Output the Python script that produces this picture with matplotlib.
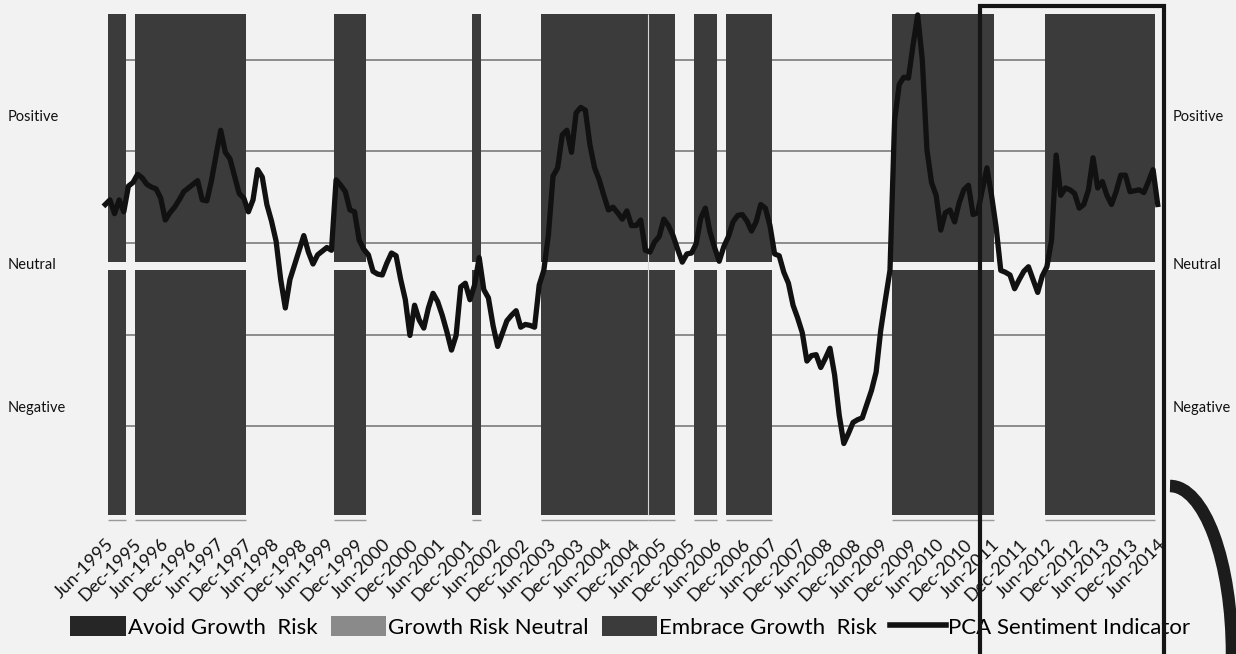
import matplotlib
matplotlib.use("Agg")
import matplotlib.pyplot as plt
from matplotlib.patches import Patch, Rectangle, Arc
from matplotlib.lines import Line2D

# ---------------- data ----------------
pca_sentiment = [
    0.42, 0.47, 0.32, 0.47, 0.34, 0.62, 0.66, 0.75, 0.71, 0.64,
    0.61, 0.59, 0.49, 0.25, 0.33, 0.39, 0.47, 0.56, 0.60, 0.64,
    0.68, 0.47, 0.46, 0.68, 0.96, 1.23, 0.99, 0.92, 0.73, 0.54,
    0.49, 0.34, 0.47, 0.80, 0.72, 0.42, 0.24, 0.02, -0.40, -0.71,
    -0.40, -0.24, -0.08, 0.08, -0.10, -0.23, -0.13, -0.09, -0.05, -0.08,
    0.69, 0.63, 0.56, 0.36, 0.34, 0.03, -0.07, -0.13, -0.31, -0.34,
    -0.35, -0.22, -0.11, -0.14, -0.40, -0.62, -1.01, -0.68, -0.84, -0.93,
    -0.71, -0.55, -0.64, -0.79, -0.97, -1.17, -1.01, -0.48, -0.44, -0.62,
    -0.46, -0.16, -0.51, -0.60, -0.90, -1.13, -0.99, -0.85, -0.79, -0.74,
    -0.92, -0.89, -0.90, -0.92, -0.46, -0.30, 0.09, 0.73, 0.82, 1.18,
    1.23, 0.99, 1.42, 1.48, 1.45, 1.07, 0.82, 0.69, 0.52, 0.36,
    0.39, 0.33, 0.26, 0.35, 0.19, 0.19, 0.25, -0.08, -0.10, 0.01,
    0.07, 0.26, 0.19, 0.08, -0.07, -0.21, -0.12, -0.11, -0.01, 0.27,
    0.38, 0.12, -0.05, -0.20, -0.04, 0.07, 0.23, 0.30, 0.31, 0.24,
    0.13, 0.23, 0.42, 0.38, 0.19, -0.12, -0.14, -0.32, -0.44, -0.68,
    -0.82, -0.98, -1.29, -1.23, -1.22, -1.36, -1.26, -1.15, -1.44, -1.88,
    -2.19, -2.08, -1.96, -1.93, -1.91, -1.76, -1.61, -1.41, -0.95, -0.62,
    -0.30, 1.34, 1.73, 1.81, 1.80, 2.16, 2.49, 2.00, 1.02, 0.66,
    0.52, 0.14, 0.33, 0.36, 0.23, 0.44, 0.58, 0.63, 0.31, 0.33,
    0.58, 0.82, 0.52, 0.17, -0.30, -0.32, -0.35, -0.50, -0.40, -0.31,
    -0.26, -0.40, -0.54, -0.36, -0.26, 0.03, 0.96, 0.52, 0.60, 0.58,
    0.54, 0.38, 0.42, 0.58, 0.93, 0.60, 0.67, 0.52, 0.42, 0.56,
    0.74, 0.74, 0.56, 0.57, 0.58, 0.55, 0.67, 0.80, 0.42,
]
months = list(range(len(pca_sentiment)))  # Jun-1995 .. Jun-2014, monthly

# regime periods (first month index, last month index)
regime_spans = [(1, 4), (7, 30), (50, 56), (80, 81), (95, 117), (118, 123),
                (128, 132), (135, 144), (171, 192), (204, 227)]

tick_positions = list(range(0, len(pca_sentiment), 6))
tick_labels = [f"{mo}-{yr}" for yr in range(1995, 2015) for mo in ("Jun", "Dec")][:len(tick_positions)]

zone_labels = ["Positive", "Neutral", "Negative"]
zone_levels = [1.37, -0.24, -1.80]

legend_labels = ["Avoid Growth  Risk", "Growth Risk Neutral", "Embrace Growth  Risk",
                 "PCA Sentiment Indicator"]

# ---------------- style ----------------
BG = "#f2f2f2"
BAR = "#3b3b3b"
FONT = ["Lato", "DejaVu Sans"]
plt.rcParams["font.family"] = FONT

W, H = 1236, 654
fig = plt.figure(figsize=(W / 100, H / 100), dpi=100, facecolor=BG)

ax_l, ax_r, ax_t, ax_b = 103, 1160, 14, 525
ax = fig.add_axes([ax_l / W, 1 - ax_b / H, (ax_r - ax_l) / W, (ax_b - ax_t) / H])
ax.set_facecolor(BG)
ax.set_xlim(-0.5, len(pca_sentiment) - 0.5)
ax.set_ylim(-3.08, 2.5)

grid_start = regime_spans[0][0] - 0.5
grid_end = regime_spans[-1][1] + 0.5
for g in [-2, -1, 0, 1, 2]:
    ax.hlines(g, grid_start, grid_end, color="#707070", lw=1.1, zorder=0.5)

upper_bottom, upper_top = -0.21, 2.5
lower_bottom, lower_top = -2.97, -0.30
for a, b in regime_spans:
    c = (a + b) / 2
    w = b - a + 1
    ax.bar(c, upper_top - upper_bottom, width=w, bottom=upper_bottom,
           color=BAR, linewidth=0, zorder=1)
    ax.bar(c, lower_top - lower_bottom, width=w, bottom=lower_bottom,
           color=BAR, linewidth=0, zorder=1)
    ax.hlines(-3.03, a - 0.5, b + 0.5, color="#9a9a9a", lw=1.0, zorder=1)
# thin separators between touching periods
for (a1, b1), (a2, b2) in zip(regime_spans[:-1], regime_spans[1:]):
    if a2 == b1 + 1:
        ax.vlines(b1 + 0.5, lower_bottom, upper_top, color="#d8d8d8", lw=0.8, zorder=1.5)

ax.plot(months, pca_sentiment, color="#111111", lw=3.8, solid_joinstyle="round",
        zorder=3, clip_on=False)

for s in ax.spines.values():
    s.set_visible(False)
ax.set_yticks([])
ax.set_xticks(tick_positions)
ax.set_xticklabels(tick_labels, rotation=45, ha="right", va="top",
                   rotation_mode="anchor", fontsize=13, color="#111111")
ax.tick_params(axis="x", length=0, pad=8)

for lab, lev in zip(zone_labels, zone_levels):
    ax.annotate(lab, xy=(0, lev), xycoords=("figure pixels", "data"),
                xytext=(8, 0), textcoords="offset pixels",
                ha="left", va="center", fontsize=10.5, color="#111111")
    ax.annotate(lab, xy=(0, lev), xycoords=("figure pixels", "data"),
                xytext=(1173, 0), textcoords="offset pixels",
                ha="left", va="center", fontsize=10.5, color="#111111")

handles = [Patch(facecolor="#262626", edgecolor="none"),
           Patch(facecolor="#8a8a8a", edgecolor="none"),
           Patch(facecolor="#3b3b3b", edgecolor="none"),
           Line2D([], [], color="#111111", lw=4)]
fig.legend(handles, legend_labels, loc="center", bbox_to_anchor=(630 / W, 1 - 627 / H),
           ncol=4, frameon=False, fontsize=16, handlelength=2.5, handleheight=1.0,
           handletextpad=0.08, columnspacing=0.6, borderaxespad=0)

# overlay markings present on the reference image
fig.add_artist(Rectangle((980 / W, 1 - 700 / H), (1164 - 980) / W, (700 - 6) / H,
                         transform=fig.transFigure, fill=False, edgecolor="#151515",
                         lw=3, zorder=10))
fig.add_artist(Arc((1170 / W, 0), 2 * 62 / W, 2 * 168 / H, theta1=0, theta2=90,
                   transform=fig.transFigure, color="#1c1c1c", lw=9, zorder=10))

fig.savefig("out.png", dpi=100, facecolor=BG)
